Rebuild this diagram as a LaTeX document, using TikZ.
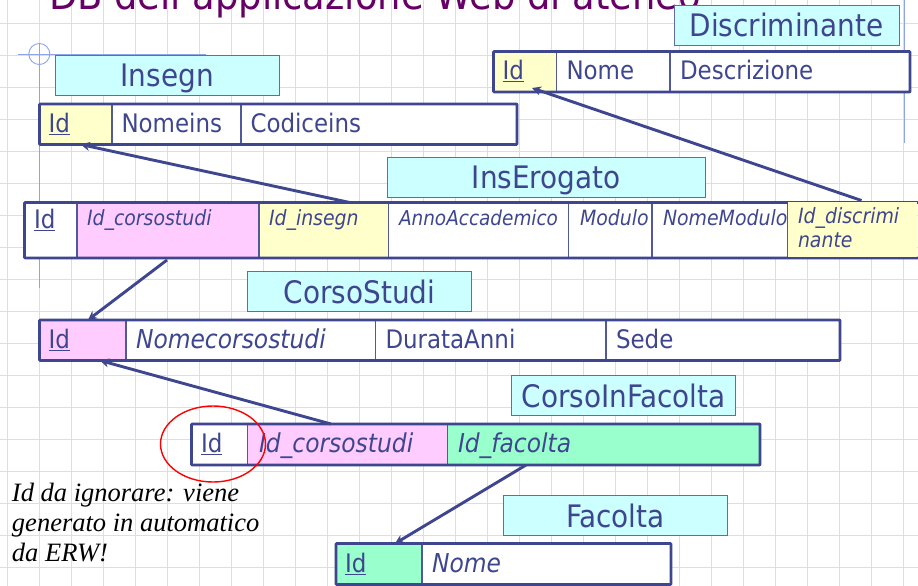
\documentclass[tikz,border=0pt]{standalone}
\usepackage{fontspec}
\usetikzlibrary{arrows.meta}
\setmainfont{DejaVu Sans Condensed}
\newfontfamily\notefont{Liberation Serif}
\definecolor{ink}{HTML}{3F4690}
\definecolor{gridc}{HTML}{D6DDF8}
\definecolor{guidec}{HTML}{8FA3EA}
\definecolor{labelc}{HTML}{CCFFFF}
\definecolor{yel}{HTML}{FFFFCC}
\definecolor{pnk}{HTML}{FFCCFF}
\definecolor{grn}{HTML}{99FFCC}
\definecolor{titlec}{HTML}{660066}
\newcommand{\itfont}{\fontsize{26}{28}\selectfont\itshape}
\tikzset{
 x=1pt,y=-1pt,
 every node/.style={outer sep=0pt},
 namebox/.style={draw=ink!80,line width=0.9pt,fill=labelc,text=ink,inner sep=0pt,text height=28pt,text depth=5pt,font=\fontsize{31}{34}\selectfont},
 cellbox/.style={draw=ink!90,line width=1.1pt,inner sep=0pt,anchor=north west},
 tblframe/.style={draw=ink,line width=2.8pt,inner sep=0pt,anchor=north west,rounded corners=0.8pt},
 celltxt/.style={text=ink,inner sep=0pt,anchor=base west,font=\fontsize{25.5}{28}\selectfont},
 celltxti/.style={text=ink,inner sep=0pt,anchor=base west,font=\itfont},
 celltxts/.style={text=ink,inner sep=0pt,anchor=base west,font=\fontsize{21}{24}\selectfont\itshape,align=left},
 fk/.style={draw=ink,line width=2.9pt,-{Stealth[length=9pt,width=9pt]}},
}
\newcommand{\nbox}[6]{\node[namebox,minimum width=#4 pt-#2 pt,minimum height=#5 pt-#3 pt,anchor=north west] (#1) at (#2,#3) {#6};}
\newcommand{\cbox}[6]{\node[cellbox,fill=#6,minimum width=#4 pt-#2 pt,minimum height=#5 pt-#3 pt] (#1) at (#2,#3) {};}
\newcommand{\frm}[5]{\node[tblframe,minimum width=#4 pt-#2 pt,minimum height=#5 pt-#3 pt] (#1) at (#2,#3) {};}
\begin{document}
\begin{tikzpicture}
\useasboundingbox (0,0) rectangle (918,586);
\fill[white] (0,0) rectangle (918,586);
% grid
\foreach \gx in {7,39,...,903} \draw[gridc,line width=0.9pt] (\gx.3,0) -- (\gx.3,586);
\foreach \gy in {23,55,...,583} \draw[gridc,line width=0.9pt] (0,\gy.2) -- (918,\gy.2);
% guides
\draw[guidec,line width=0.9pt] (39.3,43) -- (39.3,288);
\draw[guidec,line width=0.9pt] (18,54) -- (206,54);
\draw[guidec,line width=0.9pt] (39.3,54) circle (10.5);
\draw[guidec,line width=0.9pt] (904,0) -- (904,143);
% title
\node[text=titlec,inner sep=0pt,anchor=base west,font=\fontsize{41}{46}\selectfont] (title) at (49,10) {DB dell'applicazione Web di ateneo};
% Insegn
\nbox{lInsegn}{55}{55}{279.5}{95}{Insegn}
\cbox{iA}{39.5}{104}{112}{144.5}{yel}
\cbox{iB}{112}{104}{241}{144.5}{white}
\cbox{iC}{241}{104}{517}{144.5}{white}
\frm{iF}{39.5}{104}{517}{144.5}
\node[celltxt] (itA) at (48.5,132) {\underline{Id}};
\node[celltxt] (itB) at (121.5,132) {Nomeins};
\node[celltxt] (itC) at (250.5,132) {Codiceins};
% Discriminante
\nbox{lDisc}{674}{5.5}{899}{45.5}{Discriminante}
\cbox{dA}{493.5}{51.5}{556.5}{92}{yel}
\cbox{dB}{556.5}{51.5}{670}{92}{white}
\cbox{dC}{670}{51.5}{910}{92}{white}
\frm{dF}{493.5}{51.5}{910}{92}
\node[celltxt] (dtA) at (502.5,79.5) {\underline{Id}};
\node[celltxt] (dtB) at (566.5,79.5) {Nome};
\node[celltxt] (dtC) at (680,79.5) {Descrizione};
% InsErogato
\nbox{lIns}{387.5}{157}{705}{197}{InsErogato}
\cbox{eA}{24.5}{202.5}{77}{258}{white}
\cbox{eB}{77}{202.5}{259}{258}{pnk}
\cbox{eC}{259}{202.5}{388.5}{258}{yel}
\cbox{eD}{388.5}{202.5}{568.7}{258}{white}
\cbox{eE}{568.7}{202.5}{652}{258}{white}
\cbox{eF}{652}{202.5}{788}{258}{white}
\frm{eFr}{24.5}{202.5}{930}{258}
\node[cellbox,draw=none,fill=yel,minimum width=129pt,minimum height=55pt] (eG) at (788,201.5) {};
\node[celltxt] (etA) at (34,228.5) {\underline{Id}};
\node[celltxts] (etB) at (87,225) {Id\_corsostudi};
\node[celltxts] (etC) at (269,225) {Id\_insegn};
\node[celltxts,font=\fontsize{20.5}{24}\selectfont\itshape] (etD) at (399,225) {AnnoAccademico};
\node[celltxts] (etE) at (580,225) {Modulo};
\node[celltxts] (etF) at (663,225) {NomeModulo};
\node[celltxts,anchor=north west,text width=125pt] (etG) at (798,207.5) {Id\_discrimi\\nante};
% CorsoStudi
\nbox{lCS}{247.5}{271.5}{471.5}{311.5}{CorsoStudi}
\cbox{cA}{39.5}{320}{126}{360.5}{pnk}
\cbox{cB}{126}{320}{375.5}{360.5}{white}
\cbox{cC}{375.5}{320}{606}{360.5}{white}
\cbox{cD}{606}{320}{840}{360.5}{white}
\frm{cF}{39.5}{320}{840}{360.5}
\node[celltxt] (ctA) at (48.5,348) {\underline{Id}};
\node[celltxti] (ctB) at (136,348) {Nomecorsostudi};
\node[celltxt] (ctC) at (385.5,348) {DurataAnni};
\node[celltxt] (ctD) at (616,348) {Sede};
% CorsoInFacolta
\nbox{lCF}{511.5}{375.5}{735.5}{415.5}{CorsoInFacolta}
\cbox{fA}{191.5}{424}{247.5}{465}{white}
\cbox{fB}{247.5}{424}{447.5}{465}{pnk}
\cbox{fC}{447.5}{424}{760}{465}{grn}
\frm{fF}{191.5}{424}{760}{465}
\node[celltxt] (ftA) at (201,452) {\underline{Id}};
\node[celltxti] (ftB) at (259,452) {Id\_corsostudi};
\node[celltxti] (ftC) at (458,452) {Id\_facolta};
% Facolta
\nbox{lFa}{503.5}{495.5}{727.5}{535.5}{Facolta}
\cbox{gA}{336}{543.5}{422}{584.5}{grn}
\cbox{gB}{422}{543.5}{671}{584.5}{white}
\frm{gF}{336}{543.5}{671}{584.5}
\node[celltxt] (gtA) at (345,572) {\underline{Id}};
\node[celltxti] (gtB) at (432,572) {Nome};
% connectors
\draw[fk] ([xshift=26pt]eC.north) -- ([xshift=5pt]iA.south);
\draw[fk] ([xshift=9pt,yshift=1pt]eG.north) -- ([xshift=7pt,yshift=4pt]dA.south);
\draw[fk] ([xshift=-1pt,yshift=-2pt]eB.south) -- ([xshift=5.2pt]cA.north);
\draw[fk] ([xshift=-16.5pt]fB.north) -- ([xshift=17.2pt]cA.south);
\draw[fk] ([xshift=-77.7pt]fC.south) -- ([xshift=16pt]gA.north);
% note
\draw[red,line width=1.4pt] (213,444) ellipse (52.5 and 38);
\node[inner sep=0pt,anchor=base west,align=left,font=\notefont\fontsize{26.5}{29.7}\selectfont\itshape] (note) at (12,561) {Id da ignorare: viene\\generato in automatico\\da ERW!};
\end{tikzpicture}
\end{document}
